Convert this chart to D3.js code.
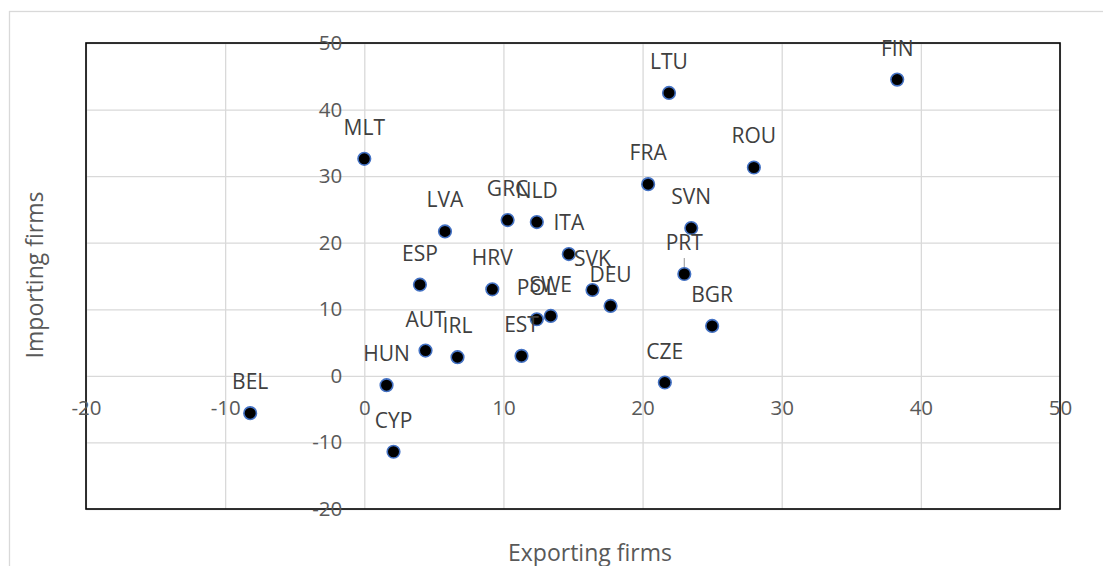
<!DOCTYPE html>
<html>
<head>
<meta charset="utf-8">
<script src="https://cdn.jsdelivr.net/npm/d3@7"></script>
<style>
  body { margin: 0; background: #fff; }
  svg text { font-family: "Open Sans", "Noto Sans", sans-serif; }
</style>
</head>
<body>
<svg id="chart" width="1103" height="566"></svg>
<script>
// country codes, % change of exporting / importing firms
var countries = ["MLT", "LTU", "FIN", "ROU", "FRA", "SVN", "LVA", "GRC", "NLD", "ITA",
    "SVK", "PRT", "DEU", "ESP", "HRV", "POL", "SWE", "BGR", "AUT", "IRL", "EST",
    "HUN", "CZE", "BEL", "CYP"];
var exporting = [0.0, 21.9, 38.3, 28.0, 20.4, 23.5, 5.8, 10.3, 12.4, 14.7,
    16.4, 23.0, 17.7, 4.0, 9.2, 12.4, 13.4, 25.0, 4.4, 6.7, 11.3,
    1.6, 21.6, -8.2, 2.1];
var importing = [32.6, 42.5, 44.5, 31.3, 28.8, 22.2, 21.7, 23.4, 23.1, 18.3,
    12.9, 15.3, 10.5, 13.7, 13.0, 8.5, 9.0, 7.5, 3.8, 2.8, 3.0,
    -1.4, -1.0, -5.6, -11.4];
var xTicks = [-20, -10, 0, 10, 20, 30, 40, 50];
var yTicks = [-20, -10, 0, 10, 20, 30, 40, 50];
var leaders = ["PRT"];

var data = countries.map(function (c, i) {
    return {name: c, x: exporting[i], y: importing[i]};
});

var svg = d3.select("#chart");
var fmt = function (d) { return String(d); }; // plain hyphen minus like the original

// chart frame
svg.append("rect")
    .attr("x", 9.5).attr("y", 11.5)
    .attr("width", 1200).attr("height", 700)
    .attr("fill", "#fff")
    .attr("stroke", "#d9d9d9").attr("stroke-width", 1.3);

var x = d3.scaleLinear().domain([-20, 50]).range([86, 1060]);
var y = d3.scaleLinear().domain([-20, 50]).range([509, 43]);

// gridlines
svg.append("g")
    .attr("transform", "translate(0," + y(-20) + ")")
    .call(d3.axisBottom(x).tickValues(xTicks).tickSize(-(y(-20) - y(50))).tickFormat(""))
    .call(function (g) {
        g.select(".domain").remove();
        g.selectAll("line").attr("stroke", "#d9d9d9").attr("stroke-width", 1.3);
    });
svg.append("g")
    .attr("transform", "translate(" + x(-20) + ",0)")
    .call(d3.axisLeft(y).tickValues(yTicks).tickSize(-(x(50) - x(-20))).tickFormat(""))
    .call(function (g) {
        g.select(".domain").remove();
        g.selectAll("line").attr("stroke", "#d9d9d9").attr("stroke-width", 1.3);
    });

// plot area border
svg.append("rect")
    .attr("x", x(-20)).attr("y", y(50))
    .attr("width", x(50) - x(-20)).attr("height", y(-20) - y(50))
    .attr("fill", "none")
    .attr("stroke", "#000").attr("stroke-width", 1.6);

// tick labels crossing at zero
svg.append("g")
    .attr("transform", "translate(" + x(0) + ",0)")
    .call(d3.axisLeft(y).tickValues(yTicks).tickFormat(fmt).tickSize(0).tickPadding(22))
    .call(function (g) {
        g.select(".domain").remove();
        g.selectAll("text").attr("fill", "#595959").style("font-size", "20.5px");
    });
svg.append("g")
    .attr("transform", "translate(0," + y(0) + ")")
    .call(d3.axisBottom(x).tickValues(xTicks).tickFormat(fmt).tickSize(0).tickPadding(25))
    .call(function (g) {
        g.select(".domain").remove();
        g.selectAll("text").attr("fill", "#595959").style("font-size", "20.5px");
    });

// leader lines
svg.selectAll(".leader")
    .data(data.filter(function (d) { return leaders.indexOf(d.name) >= 0; }))
    .enter().append("line")
    .attr("x1", function (d) { return x(d.x); })
    .attr("x2", function (d) { return x(d.x); })
    .attr("y1", function (d) { return y(d.y) - 16; })
    .attr("y2", function (d) { return y(d.y) - 5; })
    .attr("stroke", "#a6a6a6").attr("stroke-width", 1.2);

// points
svg.selectAll(".dot")
    .data(data)
    .enter().append("circle")
    .attr("class", "dot")
    .attr("cx", function (d) { return x(d.x); })
    .attr("cy", function (d) { return y(d.y); })
    .attr("r", 6.3)
    .attr("fill", "#000")
    .attr("stroke", "#4472c4").attr("stroke-width", 1.6);

// data labels
svg.selectAll(".lbl")
    .data(data)
    .enter().append("text")
    .attr("class", "lbl")
    .attr("x", function (d) { return x(d.x); })
    .attr("y", function (d) { return y(d.y) - 24; })
    .attr("text-anchor", "middle")
    .attr("fill", "#404040")
    .style("font-size", "21px")
    .text(function (d) { return d.name; });

// axis titles
svg.append("text")
    .attr("x", 590).attr("y", 561)
    .attr("text-anchor", "middle")
    .attr("fill", "#595959")
    .style("font-size", "23px")
    .text("Exporting firms");
svg.append("text")
    .attr("transform", "translate(43,275) rotate(-90)")
    .attr("text-anchor", "middle")
    .attr("fill", "#595959")
    .style("font-size", "23px")
    .text("Importing firms");
</script>
</body>
</html>
